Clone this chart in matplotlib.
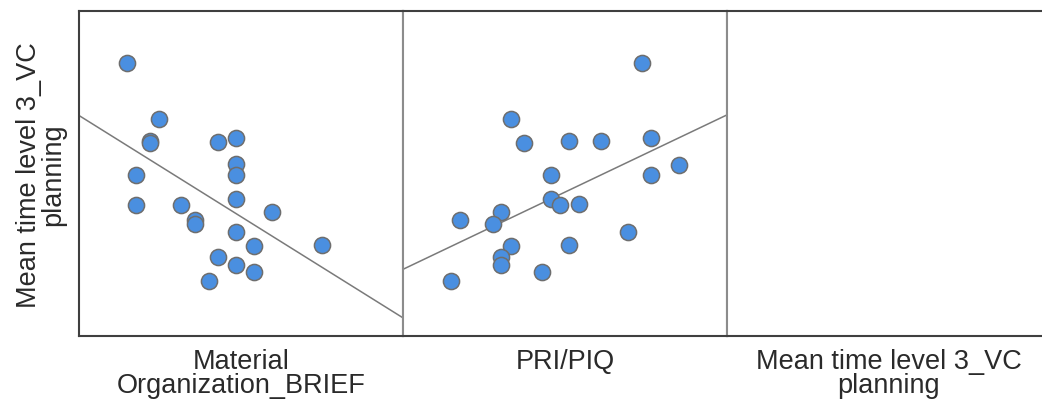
import numpy as np
import matplotlib
matplotlib.use("Agg")
import matplotlib.pyplot as plt

# ---- data (arbitrary units, axes span 0..100) ----
brief_x = [14.8, 24.6, 21.9, 22.0, 17.6, 17.6, 31.6, 35.9, 35.9, 42.8, 48.4,
           48.4, 48.4, 48.4, 59.7, 48.4, 54.0, 42.8, 48.4, 54.0, 40.1, 74.9]
brief_y = [84.0, 66.8, 60.0, 59.4, 49.5, 40.3, 40.3, 35.7, 34.5, 59.7, 60.9,
           52.9, 49.5, 42.2, 38.2, 32.0, 27.7, 24.3, 21.8, 19.7, 16.9, 28.0]

pri_x = [73.9, 33.2, 37.4, 51.3, 61.1, 76.6, 85.1, 76.6, 45.8, 45.8, 48.5,
         54.2, 30.3, 27.7, 17.7, 33.2, 51.3, 69.5, 30.3, 30.3, 42.9, 14.9]
pri_y = [84.1, 66.8, 59.3, 59.9, 59.9, 60.9, 52.7, 49.6, 49.5, 42.1, 40.4,
         40.5, 38.2, 34.4, 35.7, 27.8, 28.0, 31.9, 24.3, 21.8, 19.6, 17.0]

x_titles = ["Material\nOrganization_BRIEF", "PRI/PIQ",
            "Mean time level 3_VC\nplanning"]
y_title = "Mean time level 3_VC\nplanning"

# ---- figure ----
W, H = 1042, 407
fig = plt.figure(figsize=(W / 100, H / 100), dpi=100)
fig.patch.set_facecolor("white")
FONT = "Liberation Sans"

left_px, top_px, bottom_px, panel_w = 79, 11, 336, 324
dark = "#3f3f3f"
light = "#8c8c8c"

axes = []
for i in range(3):
    x0 = left_px + i * panel_w
    ax = fig.add_axes([x0 / W, (H - bottom_px) / H, panel_w / W,
                       (bottom_px - top_px) / H])
    ax.set_xlim(0, 100)
    ax.set_ylim(0, 100)
    ax.set_xticks([])
    ax.set_yticks([])
    for s in ax.spines.values():
        s.set_linewidth(1.5)
    ax.spines["top"].set_color(dark)
    ax.spines["bottom"].set_color(dark)
    ax.spines["left"].set_color(dark if i == 0 else light)
    ax.spines["right"].set_color(light)
    if i == 2:
        ax.spines["right"].set_visible(False)
    axes.append(ax)

for ax, xs, ys in [(axes[0], brief_x, brief_y), (axes[1], pri_x, pri_y)]:
    xs = np.asarray(xs)
    ys = np.asarray(ys)
    m, b = np.polyfit(xs, ys, 1)
    lx = np.array([0, 100])
    ax.plot(lx, m * lx + b, color="#7a7a7a", lw=1.1, zorder=1, clip_on=True)
    ax.scatter(xs, ys, s=135, facecolor="#4a8fe0", edgecolor="#6e6e6e",
               linewidth=1.1, zorder=3, clip_on=False)

for i, t in enumerate(x_titles):
    cx = left_px + i * panel_w + panel_w / 2
    fig.text(cx / W, 1 - 349 / H, t, ha="center", va="top",
             fontsize=19.5, family=FONT, color="#2a2a2a",
             linespacing=0.92, multialignment="center")

fig.text(41 / W, 1 - 175 / H, y_title, ha="center", va="center",
         rotation=90, fontsize=19.5, family=FONT, color="#2a2a2a",
         linespacing=0.92, multialignment="center")

fig.savefig("out.png", dpi=100, facecolor="white")
